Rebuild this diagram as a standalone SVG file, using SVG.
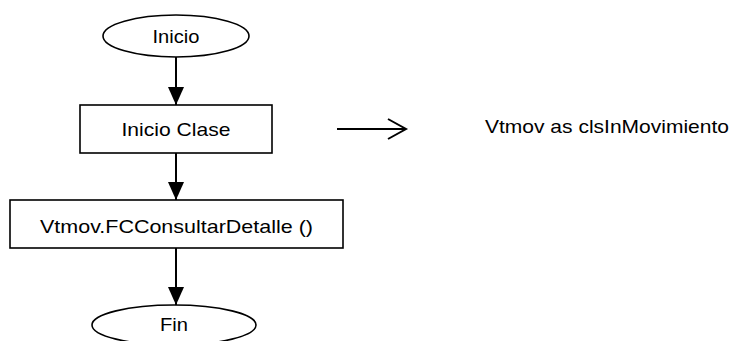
<svg xmlns="http://www.w3.org/2000/svg" width="735" height="341" viewBox="0 0 735 341">
<style>
.shape{fill:#fff;stroke:#000;stroke-width:1.6}
.lbl{font-family:"Liberation Sans",Arial,sans-serif;font-size:19px;fill:#000}
.mid{text-anchor:middle}
.conn{stroke:#000;stroke-width:2;fill:none}
</style>
<defs>
<marker id="tri" markerUnits="userSpaceOnUse" markerWidth="18" markerHeight="18" refX="18" refY="8" orient="auto">
<path d="M0,0 L18,8 L0,16 Z" fill="#000"/>
</marker>
</defs>
<rect width="735" height="341" fill="#fff"/>
<g id="connectors">
<line class="conn" x1="176" y1="57" x2="176" y2="105" marker-end="url(#tri)"/>
<line class="conn" x1="176" y1="153" x2="176" y2="200" marker-end="url(#tri)"/>
<line class="conn" x1="176" y1="248" x2="176" y2="305" marker-end="url(#tri)"/>
<line class="conn" x1="337" y1="129" x2="405" y2="129"/>
<polyline class="conn" points="388,119 406,129 388,139"/>
</g>
<g id="inicio">
<ellipse class="shape" cx="176" cy="36" rx="73" ry="21"/>
<text class="lbl mid" x="176" y="43" textLength="47" lengthAdjust="spacingAndGlyphs">Inicio</text>
</g>
<g id="inicio-clase">
<rect class="shape" x="80" y="105" width="192" height="48"/>
<text class="lbl mid" x="176" y="136" textLength="109" lengthAdjust="spacingAndGlyphs">Inicio Clase</text>
</g>
<g id="consultar">
<rect class="shape" x="10" y="200" width="333" height="48"/>
<text class="lbl mid" x="176.5" y="233" textLength="273" lengthAdjust="spacingAndGlyphs">Vtmov.FCConsultarDetalle ()</text>
</g>
<g id="fin">
<ellipse class="shape" cx="174" cy="325" rx="82" ry="20"/>
<text class="lbl mid" x="174" y="331" textLength="28" lengthAdjust="spacingAndGlyphs">Fin</text>
</g>
<g id="nota">
<text class="lbl" x="485" y="133" textLength="244" lengthAdjust="spacingAndGlyphs">Vtmov as clsInMovimiento</text>
</g>
</svg>
